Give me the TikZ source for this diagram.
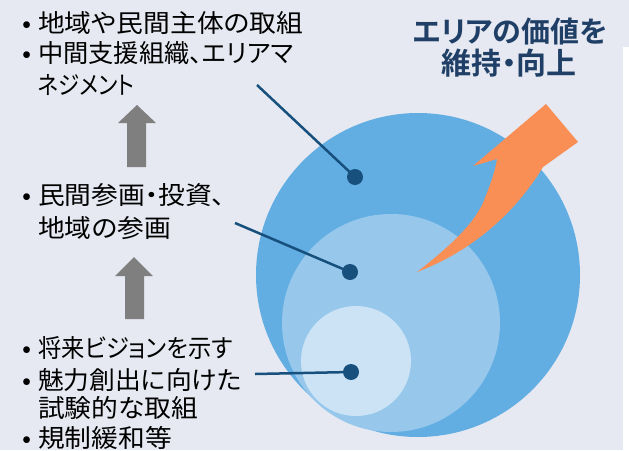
\documentclass[tikz,border=0pt]{standalone}
\usepackage{fontspec}
\setmainfont{Noto Sans CJK JP}[RawFeature=+palt, BoldFont={Noto Sans CJK JP Bold}]
\newfontfamily\bodyfont{Noto Sans CJK JP}[RawFeature=+palt, FakeStretch=1.07]
\newfontfamily\bodyfontb{Noto Sans CJK JP}[RawFeature=+palt, FakeStretch=1.01]
\newfontfamily\bodyfontc{Noto Sans CJK JP}[RawFeature=+palt, FakeStretch=0.86]
\newfontfamily\bodyfontd{Noto Sans CJK JP}[RawFeature=+palt, FakeStretch=0.93]
\newfontfamily\bodyfonte{Noto Sans CJK JP}[RawFeature=+palt, FakeStretch=1.03]
\definecolor{bg}{HTML}{E6E9F1}
\definecolor{big}{HTML}{62AEE3}
\definecolor{mid}{HTML}{97C8EC}
\definecolor{sml}{HTML}{CBE3F5}
\definecolor{navy}{HTML}{17507D}
\definecolor{ttl}{HTML}{1F3F66}
\definecolor{org}{HTML}{F98F55}
\definecolor{gry}{HTML}{7F7F7F}
\tikzset{
  txt/.style={anchor=base west, inner sep=0pt, font=\bodyfont\fontsize{25}{25}\selectfont, text=black},
  bul/.style={anchor=base, inner sep=0pt, font=\bodyfont\fontsize{25}{25}\selectfont, text=black},
  ttlt/.style={anchor=base, inner sep=0pt, font=\fontsize{29}{29}\selectfont\bfseries, text=ttl},
  lead/.style={navy, line width=2.5pt},
  dot/.style={circle, fill=navy, minimum size=16pt, inner sep=0pt},
  uparrow/.style={fill=gry, draw=none}
}
\begin{document}
\begin{tikzpicture}[x=1pt, y=-1pt]
\useasboundingbox (0,0) rectangle (629,450);
\fill[bg] (0,0) rectangle (629,450);
\fill[white] (623,47) rectangle (629,450);
% circles
\fill[big] (418,275) circle (162);
\fill[mid] (391,323) circle (109);
\fill[sml] (356,361) circle (55);
% orange arrow
\fill[org] (417,272) .. controls (445,250) and (475,225) .. (485,198)
  .. controls (490,185) and (495,172) .. (497,159) -- (473,166) -- (546,104) -- (578,142) -- (543,167)
  .. controls (520,205) and (480,248) .. (417,272) -- cycle;
% title
\node[ttlt] (t1) at (510,42) {エリアの価値を};
\node[ttlt] (t2) at (509,74) {\fontsize{30}{30}\selectfont 維持・向上};
% left texts
\node[bul] (b1) at (27,32) {•};
\node[txt] (l1) at (38,32) {地域や民間主体の取組};
\node[bul] (b2) at (27,62) {•};
\node[txt] (l2) at (38,62) {\bodyfontb 中間支援組織、エリアマ};
\node[txt] (l3) at (38,94) {\bodyfontc ネジメント};
\node[bul] (b3) at (27,204) {•};
\node[txt] (m1) at (38,204) {民間参画・投資、};
\node[txt] (m2) at (38,237) {地域の参画};
\node[bul] (b4) at (27,357) {•};
\node[txt] (s1) at (38,357) {\bodyfontd 将来ビジョンを示す};
\node[bul] (b5) at (27,389) {•};
\node[txt] (s2) at (38,389) {\bodyfonte 魅力創出に向けた};
\node[txt] (s3) at (38,417) {試験的な取組};
\node[bul] (b6) at (27,447) {•};
\node[txt] (s4) at (38,447) {規制緩和等};
% grey arrows
\fill[uparrow] (127,167) -- (127,123) -- (118,123) -- (137,105) -- (156,123) -- (146,123) -- (146,167) -- cycle;
\fill[uparrow] (125,319) -- (125,276) -- (115,276) -- (134,257) -- (153,276) -- (144,276) -- (144,319) -- cycle;
% leaders
\node[dot] (d1) at (355,177) {};
\node[dot] (d2) at (350,272) {};
\node[dot] (d3) at (351,372) {};
\coordinate (c1) at (257,85);
\coordinate (c2) at (235,223);
\coordinate (c3) at (255,374);
\draw[lead] (c1) -- (d1.center);
\draw[lead] (c2) -- (d2.center);
\draw[lead] (c3) -- (d3.center);
\end{tikzpicture}
\end{document}
